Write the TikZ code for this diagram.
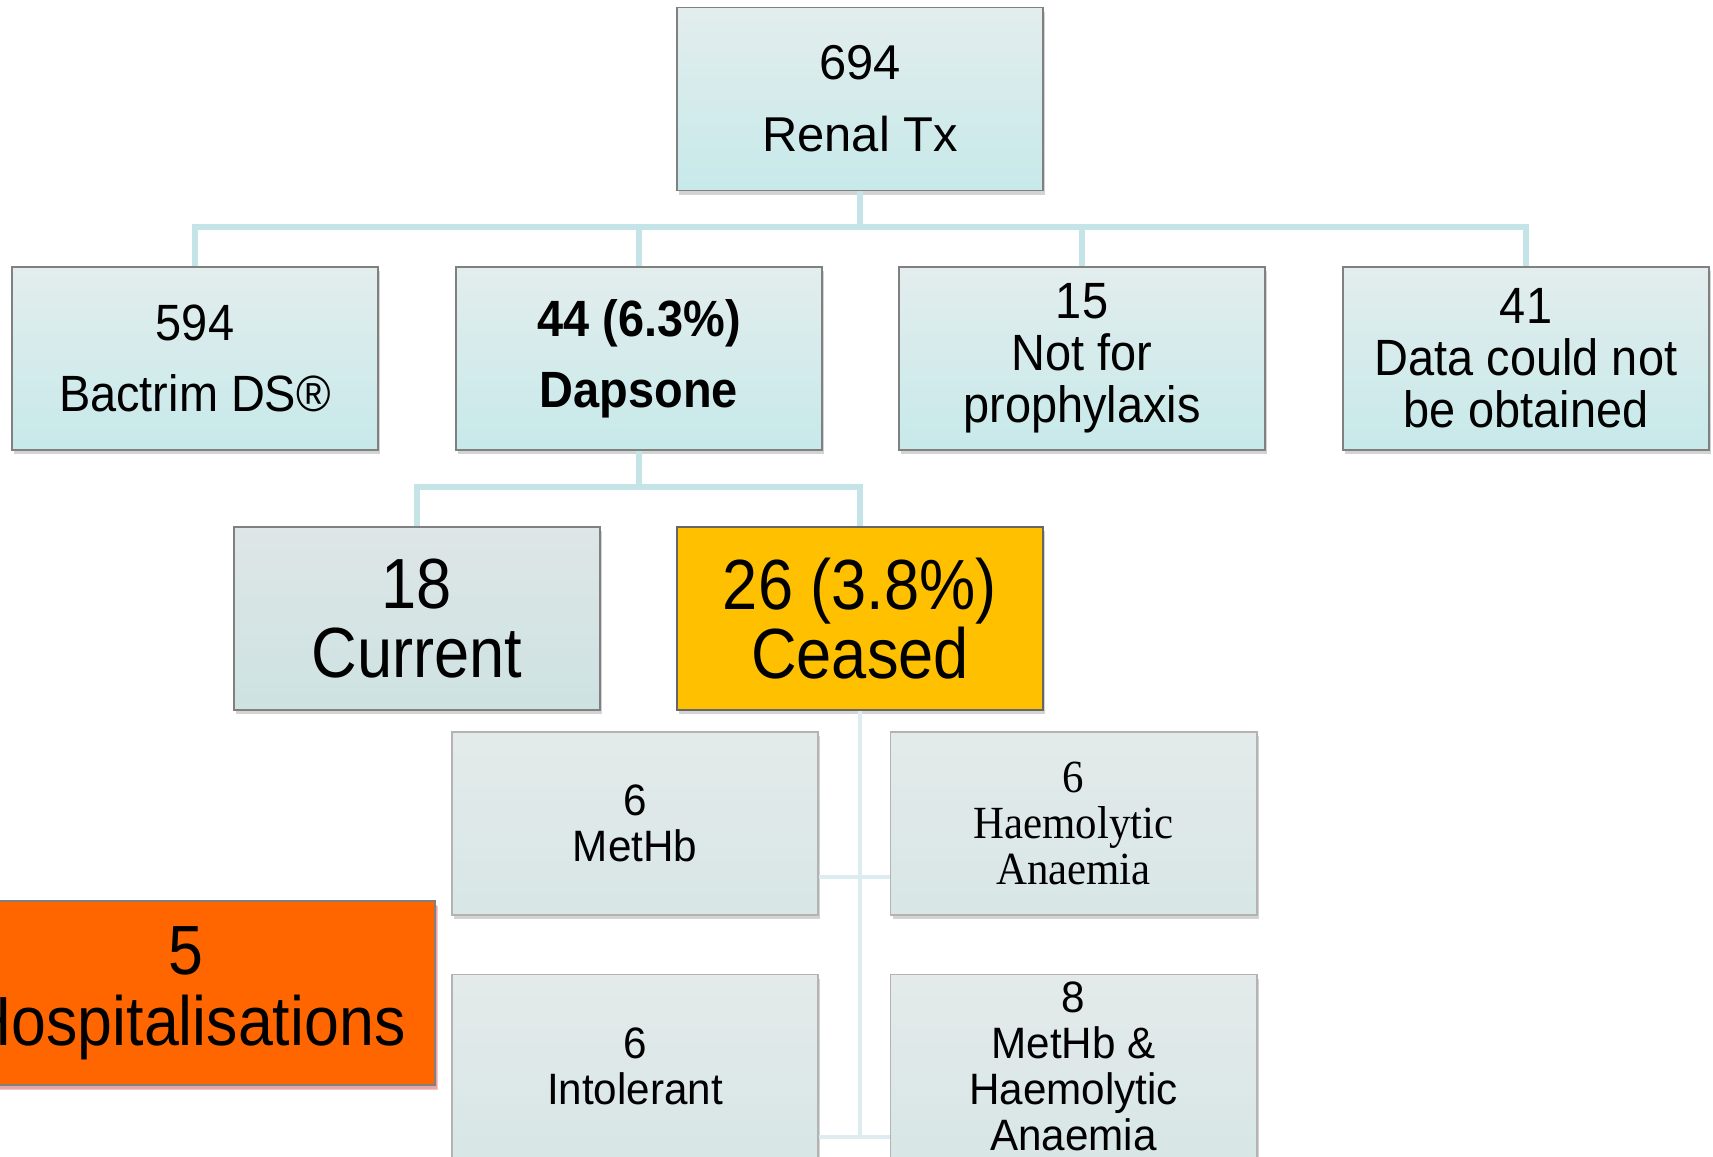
\documentclass[tikz,border=0pt]{standalone}
\usepackage{fontspec}
\setmainfont{Liberation Sans}
\newfontfamily\narrowsans[FakeStretch=0.92]{Liberation Sans}
\newfontfamily\condsans[FakeStretch=0.89]{Liberation Sans}
\newfontfamily\hospsans[FakeStretch=0.9]{Liberation Sans}
\newfontfamily\lowsans[FakeStretch=0.96]{Liberation Sans}
\newfontfamily\lowserif[FakeStretch=0.93]{Liberation Serif}
\usetikzlibrary{shadows}

\definecolor{boxtop}{RGB}{227,237,237}
\definecolor{boxbot}{RGB}{199,233,234}
\definecolor{curtop}{RGB}{222,230,230}
\definecolor{curbot}{RGB}{206,226,226}
\definecolor{lowtop}{RGB}{228,234,234}
\definecolor{lowbot}{RGB}{216,230,230}
\definecolor{ceasedfill}{RGB}{255,192,0}
\definecolor{hospfill}{RGB}{255,102,0}
\definecolor{linkblue}{RGB}{197,228,232}
\definecolor{linklight}{RGB}{220,236,240}
\definecolor{edgegray}{RGB}{128,128,128}

\begin{document}
\begin{tikzpicture}[x = 0.01cm, y = -0.01cm,
		box/.style = {draw = edgegray, line width = 0.5pt, minimum width = 3.66cm, minimum height = 1.83cm,
			inner sep = 0pt, align = center,
			drop shadow = {shadow xshift = 0.6pt, shadow yshift = -1.2pt, opacity = 0.35}},
		tealbox/.style = {box, top color = boxtop, bottom color = boxbot},
		lowbox/.style = {box, draw = edgegray!60, top color = lowtop, bottom color = lowbot},
		link/.style = {draw = linkblue, line width = 1.6pt},
		lowlink/.style = {draw = linklight, line width = 1.2pt}]
					% frame of the picture
					\useasboundingbox (0, 0) rectangle (1713, 1156);
					\clip (0, 0) rectangle (1713, 1156);
					% top
					\node[tealbox, font = \fontsize{13.9}{20.5}\selectfont] (renal) at (860, 99) {694\\Renal Tx};
					% second row
					\node[tealbox, font = \narrowsans\fontsize{14.5}{20.2}\selectfont] (bactrim) at (195, 358.5) {594\\Bactrim DS®};
					\node[tealbox, font = \narrowsans\bfseries\fontsize{14.5}{20.2}\selectfont] (dapsone) at (639, 358.5) {44 (6.3\%)\\Dapsone};
					\node[tealbox, font = \narrowsans\fontsize{14.5}{14.8}\selectfont] (notfor) at (1082, 358.5) {15\\Not for\\prophylaxis};
					\node[tealbox, font = \narrowsans\fontsize{14.5}{14.8}\selectfont] (nodata) at (1526, 358.5) {41\\Data could not\\be obtained};
					% third row
					\node[box, top color = curtop, bottom color = curbot, font = \condsans\fontsize{20.2}{19.6}\selectfont] (current) at (417, 618.5) {18\\Current};
					\node[box, draw = black!60, fill = ceasedfill, font = \condsans\fontsize{20.2}{19.6}\selectfont] (ceased) at (860, 618.5) {26 (3.8\%)\\Ceased};
					% reasons for stopping
					\node[lowbox, font = \lowsans\fontsize{12.5}{13.1}\selectfont] (methb) at (635, 823.5) {6\\MetHb};
					\node[lowbox, font = \lowserif\fontsize{13.1}{13.1}\selectfont] (haem) at (1073.5, 823.5) {6\\Haemolytic\\Anaemia};
					\node[lowbox, font = \lowsans\fontsize{12.5}{13.1}\selectfont] (intol) at (635, 1066) {6\\Intolerant};
					\node[lowbox, font = \lowsans\fontsize{12.5}{13.1}\selectfont] (both) at (1073.5, 1066) {8\\MetHb \&\\Haemolytic\\Anaemia};
					% hospital admissions
					\node[box, minimum width = 4.98cm, minimum height = 1.84cm, draw = black!50, fill = hospfill,
						drop shadow = {shadow xshift = 0.8pt, shadow yshift = -1.4pt, opacity = 0.4, fill = red!60},
						font = \hospsans\fontsize{19.8}{20.2}\selectfont] (hosp) at (186, 993) {5\\Hospitalisations};
					% connectors
					\coordinate (topbus) at (860, 227);
					\coordinate (midbus) at (639, 487);
					\coordinate (low1) at (860, 877);
					\coordinate (low2) at (860, 1137);
					\draw[link] (renal.south) -- (topbus);
					\draw[link] (topbus) -| (bactrim.north);
					\draw[link] (topbus) -| (dapsone.north);
					\draw[link] (topbus) -| (notfor.north);
					\draw[link] (topbus) -| (nodata.north);
					\draw[link] (dapsone.south) -- (midbus);
					\draw[link] (midbus) -| (current.north);
					\draw[link] (midbus) -| (ceased.north);
					\draw[lowlink] (ceased.south) -- (low2);
					\draw[lowlink] (methb.east |- low1) -- (haem.west |- low1);
					\draw[lowlink] (intol.east |- low2) -- (both.west |- low2);
				\end{tikzpicture}
\end{document}
